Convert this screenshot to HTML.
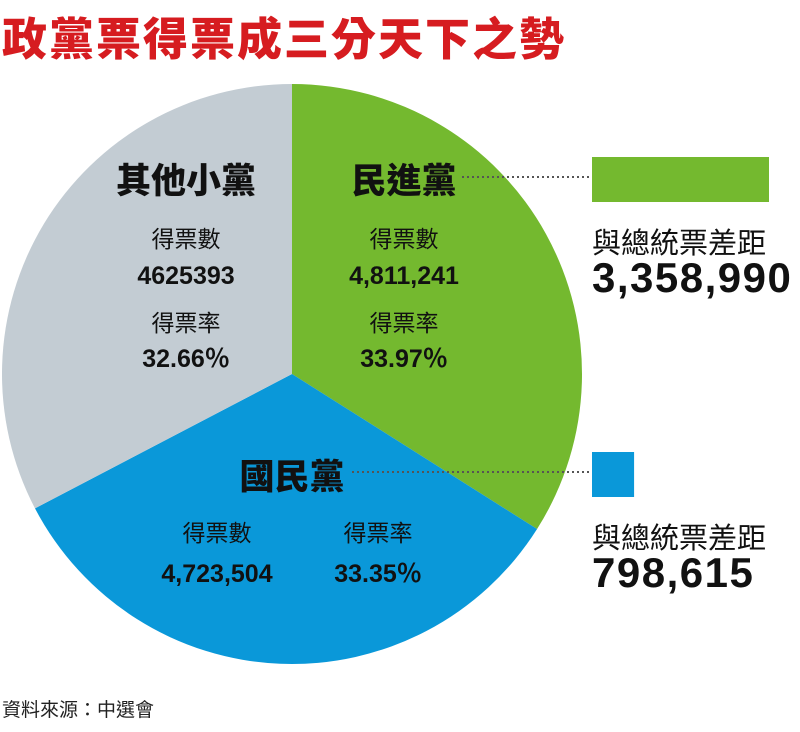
<!DOCTYPE html>
<html><head><meta charset="utf-8">
<style>
body{margin:0;background:#fff;width:800px;height:727px;overflow:hidden;font-family:"Liberation Sans","Noto Sans CJK TC",sans-serif;}
</style></head>
<body>
<svg id="chart" width="800" height="727" viewBox="0 0 800 727" xmlns="http://www.w3.org/2000/svg" font-family="'Liberation Sans','Noto Sans CJK TC',sans-serif">
<text x="2" y="55" font-size="45" font-weight="900" letter-spacing="2" fill="#d61c20">政黨票得票成三分天下之勢</text>
<g id="pie"></g>
<g id="labels"></g>
<text x="2" y="716" font-size="19" fill="#222">資料來源：中選會</text>
</svg>
<script>
const parties = ["民進黨", "國民黨", "其他小黨"];
const votes = [4811241, 4723504, 4625393];
const voteLabels = ["4,811,241", "4,723,504", "4625393"];
const shareLabels = ["33.97％", "33.35％", "32.66％"];
const colors = ["#74b92f", "#0a98d9", "#c3ccd3"];
const gaps = [3358990, 798615];
const gapLabels = ["3,358,990", "798,615"];

const NS = "http://www.w3.org/2000/svg";
const cx = 292, cy = 374, r = 290;
const pie = document.getElementById("pie");
const total = votes.reduce((a, b) => a + b, 0);
function pt(frac) { const a = frac * 2 * Math.PI; return [cx + r * Math.sin(a), cy - r * Math.cos(a)]; }
let acc = 0;
const sliceNames = ["slice-dpp", "slice-kmt", "slice-others"];
votes.forEach((v, i) => {
  const f0 = acc / total, f1 = (acc + v) / total; acc += v;
  const [x0, y0] = pt(f0), [x1, y1] = pt(f1);
  const p = document.createElementNS(NS, "path");
  p.setAttribute("d", `M${cx},${cy} L${x0},${y0} A${r},${r} 0 ${f1 - f0 > 0.5 ? 1 : 0} 1 ${x1},${y1} Z`);
  p.setAttribute("fill", colors[i]);
  
  
  pie.appendChild(p);
});

const lg = document.getElementById("labels");
function txt(x, y, s, size, weight, anchor, name, ls) {
  const t = document.createElementNS(NS, "text");
  t.setAttribute("x", x); t.setAttribute("y", y);
  t.setAttribute("font-size", size); t.setAttribute("font-weight", weight);
  t.setAttribute("text-anchor", anchor || "middle"); t.setAttribute("fill", "#111");
  if (ls) t.setAttribute("letter-spacing", ls);
  t.textContent = s;
  
  
  lg.appendChild(t);
}
// DPP
txt(404, 193, parties[0], 35, 900, "middle", "dpp-name");
txt(404, 247, "得票數", 23, 400, "middle", "dpp-votes-label");
txt(404, 284, voteLabels[0], 25, 700, "middle", "dpp-votes");
txt(404, 331, "得票率", 23, 400, "middle", "dpp-share-label");
txt(404, 367, shareLabels[0], 25, 700, "middle", "dpp-share");
// Others
txt(186, 193, parties[2], 35, 900, "middle", "others-name");
txt(186, 247, "得票數", 23, 400, "middle", "others-votes-label");
txt(186, 284, voteLabels[2], 25, 700, "middle", "others-votes");
txt(186, 331, "得票率", 23, 400, "middle", "others-share-label");
txt(186, 367, shareLabels[2], 25, 700, "middle", "others-share");
// KMT
txt(292, 489, parties[1], 35, 900, "middle", "kmt-name");
txt(217, 541, "得票數", 23, 400, "middle", "kmt-votes-label");
txt(217, 582, voteLabels[1], 25, 700, "middle", "kmt-votes");
txt(378, 541, "得票率", 23, 400, "middle", "kmt-share-label");
txt(378, 582, shareLabels[1], 25, 700, "middle", "kmt-share");

// gap bars
const barX = 592, maxW = 177, gapTops = [157, 452], barH = 45, lineStarts = [462, 352];
const barNames = ["gap-bar-dpp", "gap-bar-kmt"];
const gapColors = [colors[0], colors[1]];
gaps.forEach((g, i) => {
  const w = maxW * g / gaps[0];
  const y = gapTops[i];
  const l = document.createElementNS(NS, "line");
  l.setAttribute("x1", lineStarts[i]); l.setAttribute("x2", barX);
  l.setAttribute("y1", y + 20); l.setAttribute("y2", y + 20);
  l.setAttribute("stroke", "#555"); l.setAttribute("stroke-width", "2"); l.setAttribute("stroke-dasharray", "2 3");
  
  
  lg.appendChild(l);
  const rct = document.createElementNS(NS, "rect");
  rct.setAttribute("x", barX); rct.setAttribute("y", y);
  rct.setAttribute("width", w); rct.setAttribute("height", barH);
  rct.setAttribute("fill", gapColors[i]);
  
  
  lg.appendChild(rct);
  txt(592, y + 96, "與總統票差距", 29, 400, "start", "gap-label");
  txt(592, y + 135, gapLabels[i], 42, 900, "start", "gap-value", "1.5");
});
</script>
</body></html>
